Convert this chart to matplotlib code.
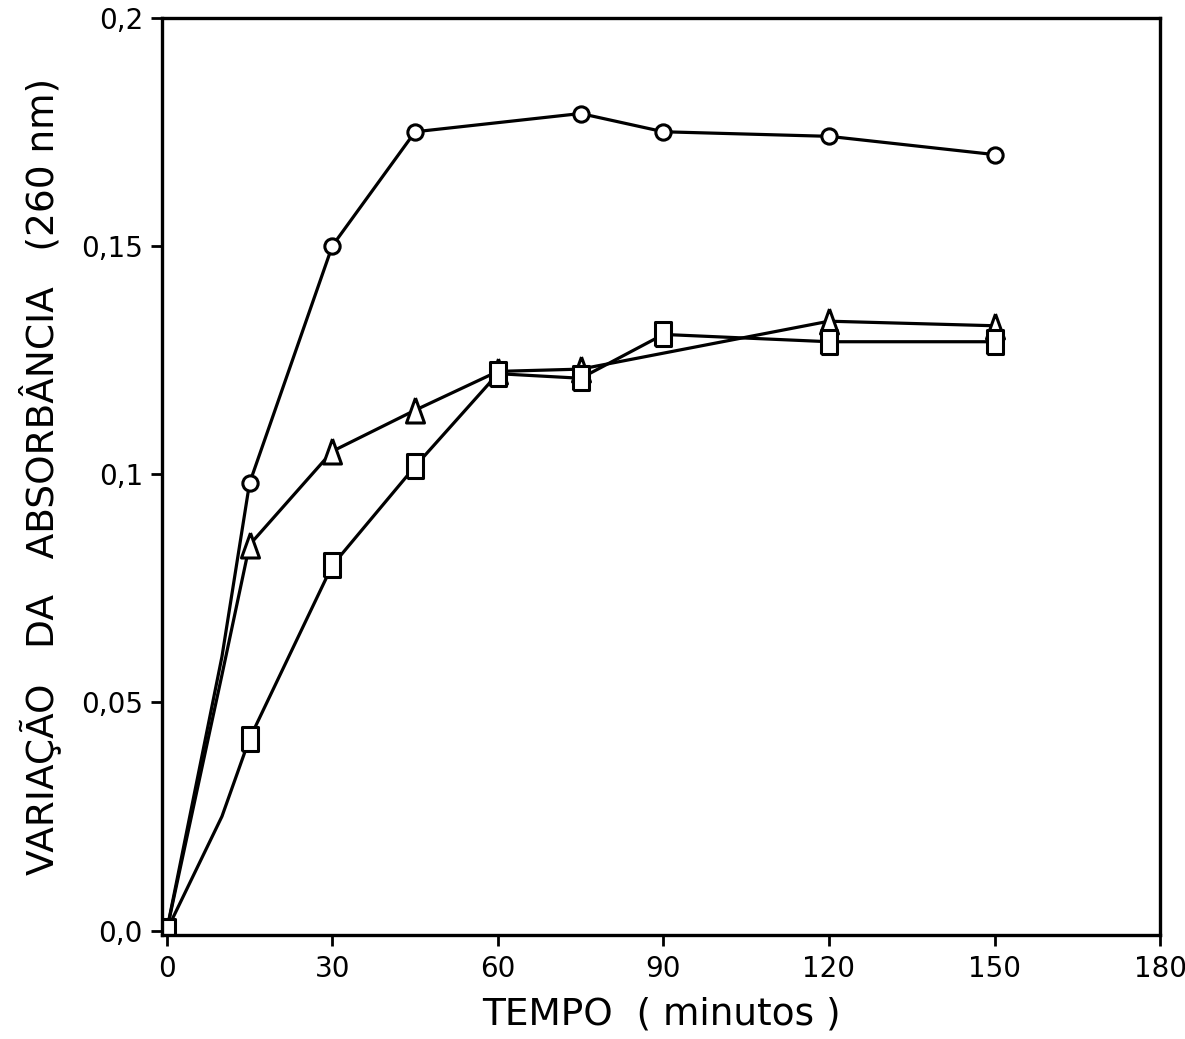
import matplotlib
matplotlib.use("Agg")
import matplotlib.pyplot as plt

# tempo (minutos); the 10 min entries are bends of the hand-drawn curves (no marker)
t_circ = [0, 10, 15, 30, 45, 75, 90, 120, 150]
a_circ = [0.0, 0.060, 0.098, 0.150, 0.175, 0.179, 0.175, 0.174, 0.170]

t_tri = [0, 10, 15, 30, 45, 60, 75, 120, 150]
a_tri = [0.0, 0.056, 0.0845, 0.105, 0.114, 0.1225, 0.123, 0.1335, 0.1325]

t_sq = [0, 10, 15, 30, 45, 60, 75, 90, 120, 150]
a_sq = [0.0, 0.025, 0.042, 0.080, 0.1017, 0.122, 0.121, 0.1306, 0.129, 0.129]

xticks = [0, 30, 60, 90, 120, 150, 180]
yticks = [0.0, 0.05, 0.1, 0.15, 0.2]
ytick_labels = ["0,0", "0,05", "0,1", "0,15", "0,2"]

plt.rcParams["font.family"] = "DejaVu Sans"

fig = plt.figure(figsize=(11.85, 10.39), dpi=100)
ax = fig.add_axes([0.137, 0.100, 0.842, 0.883])

rect = [(-0.33, -0.5), (0.33, -0.5), (0.33, 0.5), (-0.33, 0.5), (-0.33, -0.5)]
tri = [(0.0, 0.5), (0.36, -0.5), (-0.36, -0.5), (0.0, 0.5)]

skip = lambda t: [i for i, v in enumerate(t) if v != 10]

ax.plot(t_circ, a_circ, color="black", lw=2.3, marker="o", ms=11,
        mfc="white", mec="black", mew=2.2, markevery=skip(t_circ))
ax.plot(t_tri, a_tri, color="black", lw=2.3, marker=tri, ms=18,
        mfc="white", mec="black", mew=2.2, markevery=skip(t_tri))
ax.plot(t_sq, a_sq, color="black", lw=2.3, marker=rect, ms=17,
        mfc="white", mec="black", mew=2.2, markevery=skip(t_sq))

ax.set_xlim(-0.8, 180)
ax.set_ylim(-0.001, 0.2)
ax.set_xticks(xticks)
ax.set_xticklabels([str(v) for v in xticks])
ax.set_yticks(yticks)
ax.set_yticklabels(ytick_labels)

for s in ax.spines.values():
    s.set_linewidth(2.4)
ax.tick_params(direction="out", length=8, width=2, labelsize=20, pad=6)

ax.set_xlabel("TEMPO  ( minutos )", fontsize=27, labelpad=10)
ax.set_ylabel("VARIAÇÃO   DA   ABSORBÂNCIA   (260 nm)", fontsize=27, labelpad=14)

fig.savefig("out.png", dpi=100, facecolor="white")
